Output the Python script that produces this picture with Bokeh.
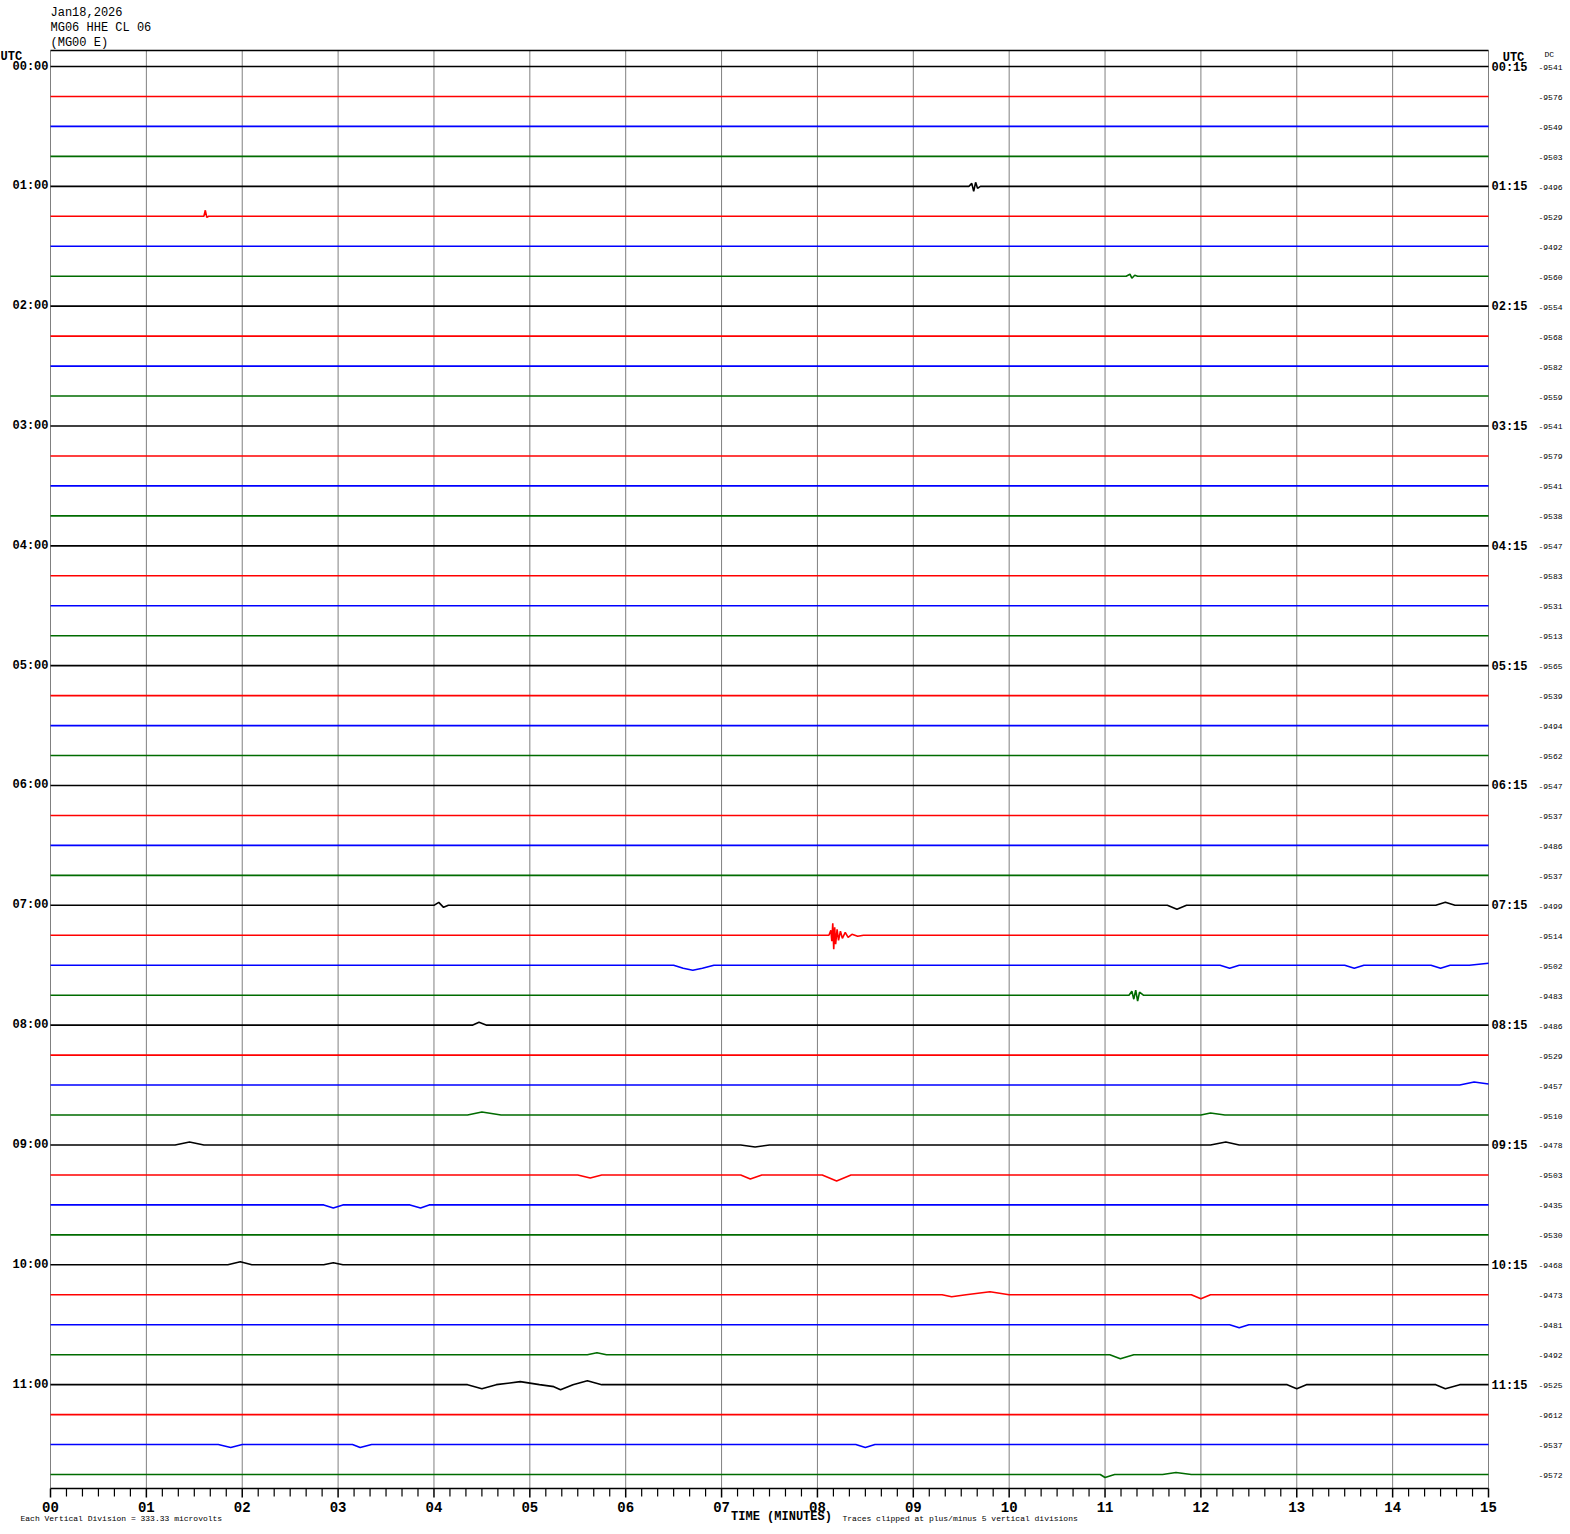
from bokeh.plotting import figure
from bokeh.models import Range1d, Label, ColumnDataSource
from bokeh.core.properties import value
from bokeh.embed import file_html
from bokeh.resources import INLINE

# ---------------- data ----------------
header_lines = ["Jan18,2026", "MG06 HHE CL 06", "(MG00 E)"]

left_hour_labels = ["00:00", "01:00", "02:00", "03:00", "04:00", "05:00",
                    "06:00", "07:00", "08:00", "09:00", "10:00", "11:00"]
right_hour_labels = ["00:15", "01:15", "02:15", "03:15", "04:15", "05:15",
                     "06:15", "07:15", "08:15", "09:15", "10:15", "11:15"]

dc_offsets = [-9541, -9576, -9549, -9503,
              -9496, -9529, -9492, -9560,
              -9554, -9568, -9582, -9559,
              -9541, -9579, -9541, -9538,
              -9547, -9583, -9531, -9513,
              -9565, -9539, -9494, -9562,
              -9547, -9537, -9486, -9537,
              -9499, -9514, -9502, -9483,
              -9486, -9529, -9457, -9510,
              -9478, -9503, -9435, -9530,
              -9468, -9473, -9481, -9492,
              -9525, -9612, -9537, -9572]

trace_colors = ["#000000", "#ff0000", "#0000ff", "#006b00"]

minute_ticks = list(range(16))
minute_tick_labels = ["00", "01", "02", "03", "04", "05", "06", "07",
                      "08", "09", "10", "11", "12", "13", "14", "15"]
minor_per_minute = 6

# visible deflections: row -> [(minute, offset in px, up = +)]
trace_features = {
    4: [(9.58, 0), (9.61, 3), (9.63, -5), (9.65, 4), (9.67, -2), (9.70, 0)],
    5: [(1.60, 0), (1.615, 6), (1.63, -1), (1.65, 0)],
    7: [(11.22, 0), (11.26, 2), (11.28, -2), (11.31, 1), (11.34, 0)],
    28: [(4.00, 0), (4.05, 3), (4.10, -2), (4.15, 0), (11.65, 0), (11.75, -4), (11.85, 0),
         (14.45, 0), (14.55, 3), (14.65, 0)],
    29: [(8.12, 0), (8.14, 5), (8.15, -6), (8.16, 12), (8.17, -14), (8.18, 8), (8.19, -9),
         (8.205, 6), (8.22, -5), (8.24, 4), (8.26, -3), (8.29, 3), (8.32, -2), (8.36, 1),
         (8.42, -1), (8.48, 0)],
    30: [(6.50, 0), (6.60, -3), (6.70, -5), (6.80, -3), (6.92, 0), (12.2, 0), (12.3, -3),
         (12.4, 0), (13.5, 0), (13.6, -3), (13.7, 0), (14.4, 0), (14.5, -3), (14.6, 0),
         (14.8, 0), (15.0, 2)],
    31: [(11.25, 0), (11.28, 4), (11.30, -4), (11.32, 5), (11.34, -6), (11.36, 3), (11.40, 0)],
    32: [(4.40, 0), (4.47, 3), (4.55, 0)],
    34: [(14.7, 0), (14.85, 3), (15.0, 1)],
    35: [(4.35, 0), (4.5, 3), (4.7, 0), (12.0, 0), (12.1, 2), (12.25, 0)],
    36: [(1.3, 0), (1.45, 3), (1.6, 0), (7.2, 0), (7.35, -2), (7.5, 0), (12.1, 0), (12.26, 3),
         (12.4, 0)],
    37: [(5.5, 0), (5.63, -3), (5.75, 0), (7.2, 0), (7.3, -4), (7.42, 0), (8.05, 0),
         (8.2, -6), (8.35, 0)],
    38: [(2.85, 0), (2.95, -3), (3.05, 0), (3.75, 0), (3.86, -3), (3.95, 0)],
    40: [(1.85, 0), (1.98, 3), (2.1, 0), (2.85, 0), (2.95, 2), (3.05, 0)],
    41: [(9.3, 0), (9.4, -2), (9.55, 0), (9.8, 3), (10.0, 0), (11.9, 0), (12.0, -4), (12.1, 0)],
    42: [(12.3, 0), (12.4, -3), (12.5, 0)],
    43: [(5.6, 0), (5.7, 2), (5.8, 0), (11.05, 0), (11.16, -4), (11.3, 0)],
    44: [(4.35, 0), (4.5, -4), (4.65, 0), (4.9, 3), (5.1, 0), (5.25, -2), (5.32, -5),
         (5.45, 0), (5.6, 4), (5.75, 0), (12.9, 0), (13.0, -4), (13.1, 0),
         (14.45, 0), (14.55, -4), (14.7, 0)],
    46: [(1.75, 0), (1.88, -3), (2.0, 0), (3.15, 0), (3.23, -3), (3.35, 0), (8.4, 0),
         (8.5, -3), (8.6, 0)],
    47: [(10.95, 0), (11.0, -3), (11.1, 0), (11.6, 0), (11.74, 2), (11.9, 0)],
}

# ---------------- layout helpers ----------------
N = len(dc_offsets)
W, H = 1568, 1532
PLOT_L, PLOT_T, PLOT_SIZE = 50, 50, 1438
FIRST_ROW_Y = 66
SP = 29.958                      # px between traces
Y_TOP = (FIRST_ROW_Y - PLOT_T) / SP
Y_BOT = Y_TOP - PLOT_SIZE / SP


def xd(X):  # canvas x pixel -> minutes
    return (X - PLOT_L) / PLOT_SIZE * 15


def yd(Y):  # canvas y pixel -> trace units
    return Y_TOP - (Y - PLOT_T) / SP


def row_y(i):  # canvas y pixel of row i
    return FIRST_ROW_Y + i * SP


p = figure(width=W, height=H, frame_width=W, frame_height=H,
           x_range=Range1d(xd(0), xd(W)), y_range=Range1d(yd(H), yd(0)),
           x_axis_type=None, y_axis_type=None, min_border=0,
           min_border_left=0, min_border_right=0, min_border_top=0, min_border_bottom=0,
           output_backend="svg", toolbar_location=None,
           outline_line_color=None, background_fill_color="white", border_fill_color="white")
p.grid.visible = False

# minute grid lines and plot top border
p.segment(x0=minute_ticks, y0=[Y_TOP] * 16, x1=minute_ticks, y1=[Y_BOT] * 16,
          line_color="#808080", line_width=1)
p.segment(x0=[0], y0=[Y_TOP], x1=[15], y1=[Y_TOP], line_color="black", line_width=1.5)

# time axis (bottom)
p.segment(x0=[0], y0=[Y_BOT], x1=[15], y1=[Y_BOT], line_color="black", line_width=1.5)
p.segment(x0=minute_ticks, y0=[Y_BOT] * 16, x1=minute_ticks, y1=[Y_BOT - 9 / SP] * 16,
          line_color="black", line_width=1.5)
minor = [k / minor_per_minute for k in range(15 * minor_per_minute + 1)
         if k % minor_per_minute]
p.segment(x0=minor, y0=[Y_BOT] * len(minor), x1=minor, y1=[Y_BOT - 8 / SP] * len(minor),
          line_color="black", line_width=1.2)

MONO = value("Liberation Mono")
p.text(x=minute_ticks, y=[yd(1506)] * 16, text=minute_tick_labels,
       text_align="center", text_baseline="middle", text_font=MONO,
       text_font_size="14px", text_font_style="bold", text_color="black")

# ---------------- traces ----------------
xs, ys, cs = [], [], []
for i in range(N):
    pts = [(0.0, 0.0)] + trace_features.get(i, [])
    if pts[-1][0] < 15:
        pts.append((15.0, 0.0))
    xs.append([t for t, _ in pts])
    ys.append([-i + d / SP for _, d in pts])
    cs.append(trace_colors[i % 4])
src = ColumnDataSource(dict(xs=xs, ys=ys, color=cs))
p.multi_line(xs="xs", ys="ys", line_color="color", line_width=1.6, source=src)

# ---------------- texts ----------------
hour_rows = [4 * k for k in range(len(left_hour_labels))]
p.text(x=[xd(48)] * len(hour_rows), y=[-r for r in hour_rows], text=left_hour_labels,
       text_align="right", text_baseline="middle", text_font=MONO,
       text_font_size="12px", text_font_style="bold", text_color="black")
p.text(x=[xd(1491)] * len(hour_rows), y=[-r - 1 / SP for r in hour_rows], text=right_hour_labels,
       text_align="left", text_baseline="middle", text_font=MONO,
       text_font_size="12px", text_font_style="bold", text_color="black")
p.text(x=[xd(1538)] * N, y=[-i - 1 / SP for i in range(N)], text=[str(v) for v in dc_offsets],
       text_align="left", text_baseline="middle", text_font=MONO,
       text_font_size="8px", text_color="black")


def lab(text, X, Y, align="left", size="12px", style="normal"):
    p.add_layout(Label(x=xd(X), y=yd(Y), text=text, text_align=align, text_baseline="middle",
                       text_font="Liberation Mono", text_font_size=size,
                       text_font_style=style, text_color="black"))


for k, t in enumerate(header_lines):
    lab(t, 50, 12 + 15 * k, size="12px")

lab("UTC", 0, 56, size="12px", style="bold")
lab("UTC", 1513, 57, align="center", size="12px", style="bold")
lab("DC", 1544, 54, size="8px")

lab("TIME (MINUTES)", 781, 1516, align="center", size="12px", style="bold")
lab("Traces clipped at plus/minus 5 vertical divisions", 842, 1518, size="8px")
lab("Each Vertical Division =  333.33 microvolts", 20, 1518, size="8px")

open("out.html", "w").write(file_html(p, INLINE))
